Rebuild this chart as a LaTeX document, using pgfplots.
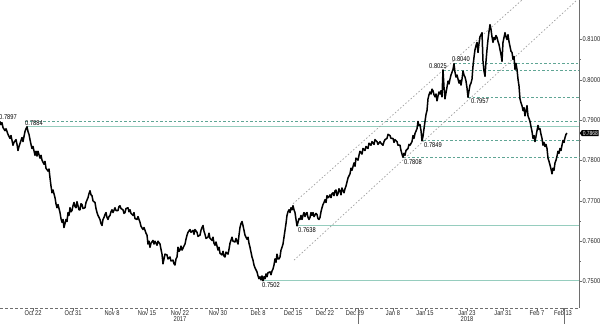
\documentclass[border=0pt]{standalone}
\usepackage{pgfplots}
\pgfplotsset{compat=1.18}
\usepackage{pgfplotstable}
\usepackage{fontspec}
\setmainfont{Liberation Sans}
\newfontfamily\narrowfont[FakeStretch=0.82]{Liberation Sans}
\usetikzlibrary{shapes.symbols}
\definecolor{tealsolid}{RGB}{150,205,190}
\definecolor{tealdash}{RGB}{95,165,148}
\definecolor{chan}{RGB}{160,160,160}
\definecolor{axgray}{RGB}{110,110,110}

\pgfplotstableread{
x y
0 0.7897
1 0.7889
2 0.7894
3 0.7882
5 0.7874
6 0.7879
8 0.7865
10 0.7855
11 0.7862
13 0.7838
14 0.7845
16 0.7852
17 0.7840
18 0.7825
19 0.7835
21 0.7850
22 0.7857
23 0.7847
25 0.7872
26 0.7879
27 0.7884
28 0.7872
29 0.7865
30 0.7852
31 0.7840
32 0.7830
33 0.7835
35 0.7813
36 0.7823
37 0.7811
38 0.7823
40 0.7806
41 0.7813
42 0.7801
44 0.7791
45 0.7798
46 0.7781
48 0.7774
49 0.7779
50 0.7757
51 0.7737
52 0.7720
53 0.7727
55 0.7708
56 0.7693
57 0.7683
58 0.7691
60 0.7671
61 0.7656
62 0.7647
63 0.7654
64 0.7634
65 0.7644
66 0.7654
67 0.7649
68 0.7671
69 0.7664
70 0.7683
71 0.7673
72 0.7676
73 0.7688
74 0.7696
75 0.7686
76 0.7683
77 0.7698
78 0.7688
79 0.7678
80 0.7678
81 0.7693
82 0.7691
83 0.7681
85 0.7683
86 0.7696
88 0.7708
89 0.7718
90 0.7725
91 0.7715
92 0.7713
93 0.7700
95 0.7696
96 0.7681
97 0.7671
98 0.7664
100 0.7654
101 0.7644
102 0.7639
103 0.7654
104 0.7659
105 0.7666
106 0.7671
107 0.7659
108 0.7654
109 0.7661
110 0.7664
111 0.7673
112 0.7678
113 0.7671
115 0.7683
116 0.7676
118 0.7676
119 0.7686
120 0.7688
121 0.7681
123 0.7678
124 0.7669
125 0.7671
126 0.7681
128 0.7683
129 0.7673
130 0.7678
131 0.7669
133 0.7664
134 0.7671
135 0.7656
137 0.7654
138 0.7661
140 0.7647
141 0.7637
143 0.7629
144 0.7634
146 0.7620
147 0.7615
148 0.7593
149 0.7600
150 0.7585
151 0.7595
153 0.7602
154 0.7593
155 0.7600
157 0.7590
158 0.7600
160 0.7593
161 0.7580
162 0.7568
163 0.7544
164 0.7556
165 0.7568
167 0.7566
168 0.7556
170 0.7561
171 0.7551
173 0.7553
174 0.7544
175 0.7541
176 0.7556
177 0.7561
178 0.7585
179 0.7575
180 0.7578
181 0.7588
182 0.7578
184 0.7588
185 0.7593
186 0.7605
187 0.7615
188 0.7622
190 0.7629
191 0.7622
193 0.7627
194 0.7617
195 0.7629
197 0.7622
198 0.7612
200 0.7615
201 0.7627
202 0.7634
203 0.7639
204 0.7625
205 0.7617
206 0.7607
208 0.7610
209 0.7620
210 0.7607
212 0.7602
213 0.7610
214 0.7595
215 0.7590
216 0.7598
218 0.7578
219 0.7585
220 0.7570
222 0.7566
223 0.7575
224 0.7563
225 0.7561
226 0.7573
228 0.7568
229 0.7580
230 0.7595
232 0.7610
233 0.7600
235 0.7598
236 0.7607
238 0.7593
239 0.7615
240 0.7634
241 0.7644
242 0.7649
243 0.7639
244 0.7627
245 0.7615
247 0.7605
248 0.7610
249 0.7595
250 0.7585
251 0.7573
252 0.7561
253 0.7553
254 0.7541
255 0.7534
257 0.7524
258 0.7514
259 0.7507
260 0.7512
261 0.7504
262 0.7514
263 0.7502
264 0.7512
265 0.7507
266 0.7519
267 0.7512
268 0.7522
270 0.7524
271 0.7517
272 0.7526
273 0.7531
274 0.7541
275 0.7556
276 0.7548
277 0.7568
278 0.7556
279 0.7556
280 0.7561
281 0.7578
282 0.7585
283 0.7593
284 0.7610
285 0.7627
286 0.7644
287 0.7664
288 0.7673
289 0.7678
290 0.7671
291 0.7683
292 0.7678
293 0.7688
294 0.7678
295 0.7671
296 0.7654
297 0.7638
298 0.7647
299 0.7656
300 0.7654
301 0.7664
302 0.7654
303 0.7664
304 0.7671
305 0.7661
306 0.7669
307 0.7671
308 0.7659
309 0.7654
310 0.7659
311 0.7671
312 0.7664
313 0.7671
314 0.7661
316 0.7669
317 0.7666
318 0.7656
319 0.7654
320 0.7659
321 0.7673
322 0.7683
323 0.7691
324 0.7696
325 0.7703
326 0.7696
327 0.7713
328 0.7708
329 0.7710
330 0.7715
331 0.7708
332 0.7718
333 0.7720
334 0.7713
335 0.7725
336 0.7727
337 0.7713
338 0.7718
339 0.7730
340 0.7725
341 0.7715
342 0.7732
343 0.7725
344 0.7720
345 0.7730
346 0.7737
348 0.7757
350 0.7767
351 0.7781
352 0.7776
354 0.7794
355 0.7786
356 0.7806
358 0.7801
359 0.7813
360 0.7823
362 0.7816
363 0.7830
365 0.7825
366 0.7835
368 0.7830
369 0.7843
371 0.7838
372 0.7847
374 0.7840
375 0.7852
377 0.7847
378 0.7840
380 0.7847
381 0.7843
383 0.7838
384 0.7847
385 0.7852
387 0.7855
388 0.7865
390 0.7862
391 0.7855
393 0.7855
394 0.7845
395 0.7852
397 0.7847
398 0.7838
400 0.7838
401 0.7825
402 0.7816
403 0.7808
404 0.7818
405 0.7813
406 0.7825
408 0.7830
409 0.7840
410 0.7838
412 0.7847
413 0.7862
414 0.7855
415 0.7867
417 0.7879
418 0.7897
419 0.7887
420 0.7889
421 0.7874
422 0.7849
423 0.7860
424 0.7879
425 0.7897
426 0.7914
427 0.7924
428 0.7953
429 0.7963
430 0.7970
431 0.7965
432 0.7977
433 0.7973
434 0.7963
435 0.7958
436 0.7965
437 0.7948
438 0.7960
439 0.7970
440 0.7965
441 0.7973
442 0.7958
443 0.8025
444 0.7982
445 0.7953
446 0.7968
447 0.7982
448 0.7997
449 0.7990
450 0.8002
451 0.8012
452 0.8019
453 0.8026
454 0.8040
455 0.8019
456 0.8007
457 0.8012
458 0.8002
459 0.7992
460 0.7999
461 0.7987
462 0.8002
463 0.8022
464 0.8012
465 0.8007
466 0.7997
467 0.7980
468 0.7957
469 0.7973
470 0.7987
471 0.7992
472 0.8002
473 0.8034
474 0.8056
475 0.8075
476 0.8085
477 0.8093
478 0.8068
479 0.8090
480 0.8107
481 0.8112
482 0.8117
483 0.8046
484 0.8022
485 0.8009
486 0.8046
487 0.8075
488 0.8100
489 0.8120
490 0.8137
491 0.8125
492 0.8107
493 0.8093
494 0.8105
495 0.8100
496 0.8110
497 0.8105
498 0.8095
499 0.8088
500 0.8075
501 0.8063
502 0.8046
503 0.8093
504 0.8105
505 0.8117
506 0.8107
507 0.8100
508 0.8112
509 0.8095
510 0.8083
511 0.8071
512 0.8068
513 0.8051
514 0.8058
515 0.8026
516 0.8041
517 0.8026
518 0.8002
519 0.7985
520 0.7953
521 0.7943
522 0.7936
523 0.7924
524 0.7931
525 0.7911
526 0.7924
527 0.7936
528 0.7911
529 0.7904
530 0.7897
531 0.7884
532 0.7872
533 0.7855
534 0.7862
535 0.7847
536 0.7860
537 0.7874
538 0.7887
539 0.7877
540 0.7879
541 0.7865
542 0.7855
543 0.7838
544 0.7845
545 0.7835
546 0.7840
547 0.7830
548 0.7806
549 0.7798
550 0.7789
551 0.7779
552 0.7767
553 0.7781
554 0.7776
555 0.7794
556 0.7801
557 0.7811
558 0.7823
559 0.7818
560 0.7830
561 0.7825
562 0.7838
563 0.7850
564 0.7845
565 0.7857
566 0.7865
567 0.7868
}\price

\begin{document}
\begin{tikzpicture}[font=\narrowfont\fontsize{7}{7.5}\selectfont]
\begin{axis}[
  name=ax,
  scale only axis, width=579pt, height=308pt,
  xmin=0, xmax=579, ymin=0.74343, ymax=0.8198,
  clip=false,
  axis x line=bottom, axis y line=right,
  x axis line style={axgray, densely dashed, line width=0.5pt, -},
  y axis line style={axgray, line width=0.6pt, -},
  tick align=outside,
  major tick length=3pt, minor tick length=1.8pt,
  every tick/.style={axgray, line width=0.5pt},
  ytick={0.75,0.76,0.77,0.78,0.79,0.80,0.81},
  minor y tick num=1,
  scaled y ticks=false,
  /pgf/number format/fixed,
  /pgf/number format/fixed zerofill,
  /pgf/number format/precision=4,
  /pgf/number format/assume math mode=true,
  yticklabel style={font=\narrowfont\fontsize{7}{7.5}\selectfont, text=black!85, inner sep=0.5pt},
  xtick={33,73,112,147,180,218,258,293,325,355,393,425,467,503,537,563},
  xticklabels={Oct 22, Oct 31, Nov 8, Nov 15, {Nov 22\\2017}, Nov 30, Dec 8, Dec 15, Dec 22, Dec 29, Jan 8, Jan 15, {Jan 23\\2018}, Jan 31, Feb 7, Feb 13},
  xticklabel style={align=center, font=\narrowfont\fontsize{7}{6.5}\selectfont, text=black!85, inner sep=0.5pt, yshift=1.5pt},
]
% horizontal levels (solid)
\addplot[tealsolid, line width=0.8pt] coordinates {(27,0.7884) (579,0.7884)};
\addplot[tealsolid, line width=0.8pt] coordinates {(297,0.7638) (579,0.7638)};
\addplot[tealsolid, line width=0.8pt] coordinates {(262,0.7502) (579,0.7502)};
% horizontal levels (dashed)
\addplot[tealdash, line width=0.6pt, dash pattern=on 2.5pt off 2pt] coordinates {(25,0.7897) (579,0.7897)};
\addplot[tealdash, line width=0.6pt, dash pattern=on 2.5pt off 2pt] coordinates {(454,0.8040) (579,0.8040)};
\addplot[tealdash, line width=0.6pt, dash pattern=on 2.5pt off 2pt] coordinates {(443,0.8025) (579,0.8025)};
\addplot[tealdash, line width=0.6pt, dash pattern=on 2.5pt off 2pt] coordinates {(468,0.7957) (579,0.7957)};
\addplot[tealdash, line width=0.6pt, dash pattern=on 2.5pt off 2pt] coordinates {(423,0.7849) (579,0.7849)};
\addplot[tealdash, line width=0.6pt, dash pattern=on 2.5pt off 2pt] coordinates {(403,0.7808) (579,0.7808)};
% channel
\addplot[chan, line width=0.7pt, dash pattern=on 1.5pt off 2pt] coordinates {(293,0.7693) (522,0.8198)};
\addplot[chan, line width=0.7pt, dash pattern=on 1.5pt off 2pt] coordinates {(294,0.7553) (577,0.8198)};
% price
\addplot[black, line width=1.5pt, line join=round] table[x=x, y=y] {\price};
% labels
\node at (axis cs:8,0.7909) {0.7897};
\node at (axis cs:34,0.7894) {0.7884};
\node at (axis cs:307,0.7627) {0.7638};
\node at (axis cs:271,0.7492) {0.7502};
\node at (axis cs:438,0.8034) {0.8025};
\node at (axis cs:461,0.8051) {0.8040};
\node at (axis cs:480,0.7948) {0.7957};
\node at (axis cs:433,0.7838) {0.7849};
\node at (axis cs:413,0.7796) {0.7808};
\node[signal, signal to=west, signal pointer angle=110, fill=black, text=white, inner sep=0.9pt, anchor=west, font=\narrowfont\fontsize{6}{6}\selectfont] at (axis cs:579.5,0.7868) {0.7868};
\draw[axgray, line width=0.5pt] (axis cs:358,0.74343) -- ++(0,-15pt);
\draw[axgray, line width=0.5pt] (axis cs:564,0.74343) -- ++(0,-15pt);
\end{axis}
\pgfresetboundingbox
\path[use as bounding box] ([yshift=-15pt]ax.south west) rectangle ([xshift=21pt]ax.north east);
\end{tikzpicture}
\end{document}
